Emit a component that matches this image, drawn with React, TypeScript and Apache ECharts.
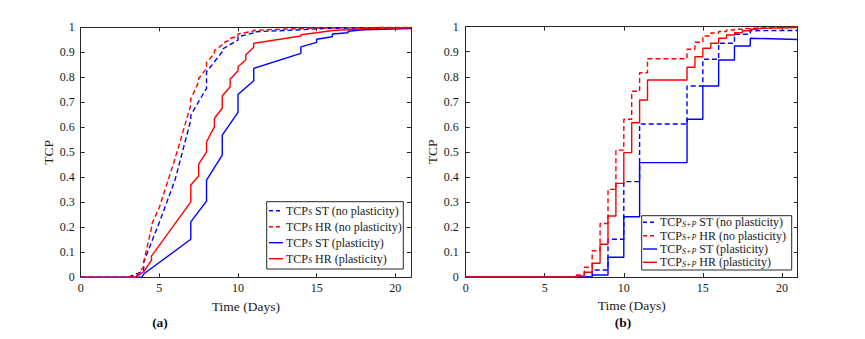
import React, { useEffect, useRef } from "react";
import * as echarts from "echarts";

// ---------- Panel (a): TCP_S, piecewise-linear curves [day, TCP] ----------
const aStNoPlast: number[][] = [
  [0, 0], [3, 0], [4, 0.025], [4, 0.06], [5, 0.22], [6, 0.39], [7, 0.629], [7, 0.649],
  [8, 0.756], [8, 0.822], [9, 0.902], [9, 0.912], [10, 0.949], [10, 0.962], [11, 0.978],
  [11, 0.982], [14, 0.99], [14, 0.992], [15, 0.994], [16, 0.996], [18, 0.997], [21, 0.998],
];
const aHrNoPlast: number[][] = [
  [0, 0], [3.5, 0], [4, 0.042], [4, 0.06], [4.5, 0.198], [4.5, 0.21], [5, 0.28], [6, 0.475],
  [7, 0.689], [7, 0.713], [7.5, 0.782], [7.5, 0.795], [8, 0.836], [8, 0.858], [8.5, 0.896],
  [8.5, 0.906], [9, 0.93], [9, 0.936], [9.5, 0.95], [9.5, 0.955], [10, 0.965], [10, 0.973],
  [11, 0.985], [11, 0.988], [14, 0.995], [15, 0.997], [21, 1.0],
];
const aStPlast: number[][] = [
  [0, 0], [3.9, 0], [4, 0.013], [7, 0.152], [7, 0.222], [8, 0.305], [8, 0.389], [9, 0.489],
  [9, 0.569], [10, 0.66], [10, 0.731], [11, 0.786], [11, 0.836], [14, 0.896], [14, 0.922],
  [15, 0.94], [15, 0.952], [16, 0.962], [16, 0.973], [17, 0.978], [17, 0.984], [18, 0.99],
  [21, 0.995],
];
const aHrPlast: number[][] = [
  [0, 0], [3.5, 0], [4, 0.022], [4.5, 0.069], [4.5, 0.085], [7, 0.302], [7, 0.369],
  [7.5, 0.405], [7.5, 0.453], [8, 0.502], [8, 0.542], [8.5, 0.602], [8.5, 0.636], [9, 0.676],
  [9, 0.725], [9.5, 0.762], [9.5, 0.792], [10, 0.826], [10, 0.842], [10.5, 0.87], [10.5, 0.89],
  [11, 0.92], [11, 0.936], [14, 0.965], [14, 0.97], [15, 0.978], [16, 0.987], [17, 0.99],
  [18, 0.995], [21, 0.998],
];

// ---------- Panel (b): TCP_{S+P}, step functions (step day -> new level) ----------
const bStNoPlastDays = [8, 9, 10, 11, 14, 15, 16, 17, 18];
const bStNoPlastLevels = [0.028, 0.151, 0.381, 0.611, 0.763, 0.87, 0.934, 0.97, 0.984];
const bHrNoPlastDays = [7, 7.5, 8, 8.5, 9, 9.5, 10, 10.5, 11, 11.5, 14, 14.5, 15, 15.5, 16, 16.5, 17, 17.5, 18, 18.5];
const bHrNoPlastLevels = [0.008, 0.039, 0.105, 0.214, 0.35, 0.507, 0.63, 0.742, 0.816, 0.872, 0.91, 0.938, 0.963, 0.975, 0.981, 0.987, 0.99, 0.993, 0.995, 0.997];
const bStPlastDays = [8, 9, 10, 11, 14, 15, 16, 17, 18];
const bStPlastLevels = [0.008, 0.079, 0.241, 0.457, 0.63, 0.763, 0.867, 0.923, 0.954];
const bHrPlastDays = [7, 7.5, 8, 8.5, 9, 9.5, 10, 10.5, 11, 11.5, 14, 14.5, 15, 15.5, 16, 16.5, 17, 17.5, 18, 18.5];
const bHrPlastLevels = [0.004, 0.019, 0.055, 0.131, 0.244, 0.374, 0.497, 0.616, 0.707, 0.787, 0.838, 0.88, 0.914, 0.934, 0.954, 0.967, 0.976, 0.984, 0.99, 0.993];
const bEndLevels = { stNo: 0.985, hrNo: 0.998, st: 0.949, hr: 0.997 };

// ---------- Axes ----------
const xMax = 21;
const xTickStep = 5;
const yTickStep = 0.1;

// legend labels: [subscript, rest]
const legendRest = [" ST (no plasticity)", " HR (no plasticity)", " ST (plasticity)", " HR (plasticity)"];
const subA = "S";
const subB = "S+P";

function stepPoints(days: number[], levels: number[], end: number): number[][] {
  const pts: number[][] = [[0, 0]];
  let prev = 0;
  days.forEach((d, i) => {
    pts.push([d, prev]);
    pts.push([d, levels[i]]);
    prev = levels[i];
  });
  pts.push([xMax, end]);
  return pts;
}

const FONT = "Liberation Serif";
const AXIS_COLOR = "#262626";
const TEXT_COLOR = "#1a1a1a";
const BLUE = "#0000ff";
const RED = "#ff0000";
const DASH = [5, 3];
const STYLES = [
  { color: BLUE, dashed: true },
  { color: RED, dashed: true },
  { color: BLUE, dashed: false },
  { color: RED, dashed: false },
];

export default function App() {
  const ref = useRef<HTMLDivElement>(null);
  useEffect(() => {
    if (!ref.current) return;
    const chart = echarts.init(ref.current, null, { renderer: "svg" });

    const xAxisBase = (gridIndex: number, position: "bottom" | "top", labels: boolean, withName: boolean) => ({
      type: "value",
      gridIndex,
      position,
      min: 0,
      max: xMax,
      interval: xTickStep,
      name: withName ? "Time (Days)" : "",
      nameLocation: "middle",
      nameGap: 14,
      nameTextStyle: { fontFamily: FONT, fontSize: 13.5, color: TEXT_COLOR },
      axisLine: { show: true, onZero: false, lineStyle: { color: AXIS_COLOR, width: 1 } },
      axisTick: { show: true, inside: true, length: 4, lineStyle: { color: AXIS_COLOR } },
      axisLabel: {
        show: labels,
        margin: 5,
        fontFamily: FONT,
        fontSize: 12,
        color: TEXT_COLOR,
        showMaxLabel: false,
        formatter: (v: number) => (v > 20 ? "" : String(v)),
      },
      splitLine: { show: false },
    });
    const yAxisBase = (gridIndex: number, position: "left" | "right", labels: boolean, withName: boolean, margin: number) => ({
      type: "value",
      gridIndex,
      position,
      min: 0,
      max: 1,
      interval: yTickStep,
      name: withName ? "TCP" : "",
      nameLocation: "middle",
      nameRotate: 90,
      nameGap: 20,
      nameTextStyle: { fontFamily: FONT, fontSize: 13.5, color: TEXT_COLOR },
      axisLine: { show: true, onZero: false, lineStyle: { color: AXIS_COLOR, width: 1 } },
      axisTick: { show: true, inside: true, length: 4, lineStyle: { color: AXIS_COLOR } },
      axisLabel: {
        show: labels,
        margin,
        fontFamily: FONT,
        fontSize: 12,
        color: TEXT_COLOR,
        formatter: (v: number) => (v === 0 ? "0" : v >= 0.999 ? "1" : v.toFixed(1)),
      },
      splitLine: { show: false },
    });

    const lineSeries = (name: string, data: number[][], idx: number, axis: number) => ({
      name,
      type: "line",
      xAxisIndex: axis,
      yAxisIndex: axis,
      data,
      symbol: "none",
      showSymbol: false,
      clip: false,
      lineStyle: { color: STYLES[idx].color, width: 1.4, type: STYLES[idx].dashed ? DASH : "solid" },
      itemStyle: { color: STYLES[idx].color },
      emphasis: { disabled: true },
    });

    const rich = {
      n: { fontFamily: FONT, fontSize: 12, lineHeight: 12, fill: TEXT_COLOR },
      s: { fontFamily: FONT, fontSize: 8, fontStyle: "italic", lineHeight: 6, verticalAlign: "bottom", fill: TEXT_COLOR },
    };

    const legendBox = (x: number, y: number, w: number, h: number, sub: string, rowY: number[], lineX: number, textX: number) => {
      const children: any[] = [
        {
          type: "rect",
          shape: { x, y, width: w, height: h },
          style: { fill: "#ffffff", stroke: AXIS_COLOR, lineWidth: 1 },
        },
      ];
      legendRest.forEach((rest, i) => {
        children.push({
          type: "line",
          shape: { x1: lineX, y1: rowY[i], x2: lineX + 14, y2: rowY[i] },
          style: { stroke: STYLES[i].color, lineWidth: 1.4, lineDash: STYLES[i].dashed ? [4, 3] : null },
        });
        children.push({
          type: "text",
          x: textX,
          y: rowY[i],
          style: {
            text: `{n|TCP}{s|${sub}}{n|${rest}}`,
            rich,
            verticalAlign: "middle",
            align: "left",
          },
        });
      });
      return { type: "group", z: 100, children };
    };

    const seriesA = [aStNoPlast, aHrNoPlast, aStPlast, aHrPlast];
    const seriesB = [
      stepPoints(bStNoPlastDays, bStNoPlastLevels, bEndLevels.stNo),
      stepPoints(bHrNoPlastDays, bHrNoPlastLevels, bEndLevels.hrNo),
      stepPoints(bStPlastDays, bStPlastLevels, bEndLevels.st),
      stepPoints(bHrPlastDays, bHrPlastLevels, bEndLevels.hr),
    ];

    const option: any = {
      animation: false,
      grid: [
        { left: 80.7, top: 27.3, width: 330.3, height: 250, containLabel: false },
        { left: 465.7, top: 26.7, width: 332, height: 250.3, containLabel: false },
      ],
      xAxis: [
        xAxisBase(0, "bottom", true, true),
        xAxisBase(0, "top", false, false),
        xAxisBase(1, "bottom", true, true),
        xAxisBase(1, "top", false, false),
      ],
      yAxis: [
        yAxisBase(0, "left", true, true, 6),
        yAxisBase(0, "right", false, false, 6),
        yAxisBase(1, "left", true, true, 7),
        yAxisBase(1, "right", false, false, 7),
      ],
      graphic: [
        legendBox(266.7, 201.7, 136.6, 67.3, subA, [210.7, 226.7, 242.7, 258.7], 269, 286),
        legendBox(641.7, 215.7, 150, 54.3, subB, [222.3, 235.7, 249, 262.3], 643, 660),
        {
          type: "text",
          x: 160,
          y: 322,
          style: { text: "(a)", fontFamily: FONT, fontSize: 13.5, fontWeight: "bold", fill: "#111", align: "center", verticalAlign: "middle" },
        },
        {
          type: "text",
          x: 623,
          y: 322,
          style: { text: "(b)", fontFamily: FONT, fontSize: 13.5, fontWeight: "bold", fill: "#111", align: "center", verticalAlign: "middle" },
        },
      ],
      series: [
        ...seriesA.map((d, i) => lineSeries("TCP_" + subA + legendRest[i], d, i, 0)),
        ...seriesB.map((d, i) => lineSeries("TCP_" + subB + legendRest[i], d, i, 2)),
      ],
    };
    chart.setOption(option);
    return () => chart.dispose();
  }, []);
  return (
    <div
      ref={ref}
      style={{ position: "fixed", left: 0, top: 0, width: 865, height: 339, background: "#fff" }}
    />
  );
}
